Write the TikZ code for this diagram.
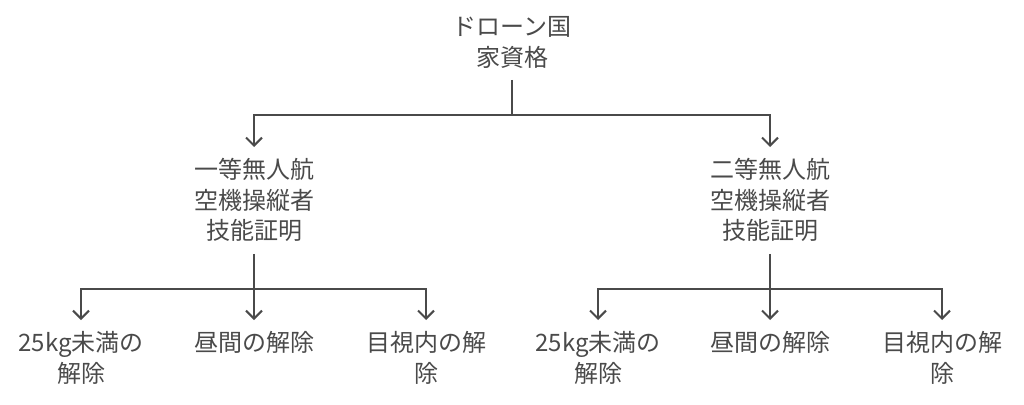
\documentclass[tikz,border=0pt]{standalone}
\usepackage{fontspec}
\setmainfont{Noto Sans CJK JP}
\usetikzlibrary{arrows.meta,calc}
\definecolor{ink}{HTML}{4A4A4A}
\tikzset{
  lbl/.style={anchor=north, align=center, text=ink, inner xsep=2pt, inner ysep=11.5pt,
    font=\fontsize{24pt}{30.5pt}\selectfont},
  conn/.style={draw=ink, line width=2pt},
  arr/.style={conn, -{Straight Barb[length=8pt,width=16pt]}}
}
\begin{document}
\begin{tikzpicture}[x=1pt,y=-1pt]
\useasboundingbox (0,0) rectangle (1024,404);
\node[lbl] (r) at (512,5) {ドローン国\\家資格};
\node[lbl] (m1) at (254,147) {一等無人航\\空機操縦者\\技能証明};
\node[lbl] (m2) at (770,147) {二等無人航\\空機操縦者\\技能証明};
\node[lbl] (a1) at (81,320) {25kg未満の\\解除};
\node[lbl] (a2) at (254,320) {昼間の解除};
\node[lbl] (a3) at (426,320) {目視内の解\\除};
\node[lbl] (b1) at (598,320) {25kg未満の\\解除};
\node[lbl] (b2) at (770,320) {昼間の解除};
\node[lbl] (b3) at (942,320) {目視内の解\\除};
% root
\draw[conn] (r.south) -- ($(r.south)+(0,35)$) coordinate (rj);
\draw[arr] (rj) -| (m1.north);
\draw[arr] (rj) -| (m2.north);
% left branch
\draw[conn] (m1.south) -- ($(m1.south)+(0,35)$) coordinate (j1);
\draw[arr] (j1) -| (a1.north);
\draw[arr] (j1) -- (a2.north);
\draw[arr] (j1) -| (a3.north);
% right branch
\draw[conn] (m2.south) -- ($(m2.south)+(0,35)$) coordinate (j2);
\draw[arr] (j2) -| (b1.north);
\draw[arr] (j2) -- (b2.north);
\draw[arr] (j2) -| (b3.north);
\end{tikzpicture}
\end{document}
